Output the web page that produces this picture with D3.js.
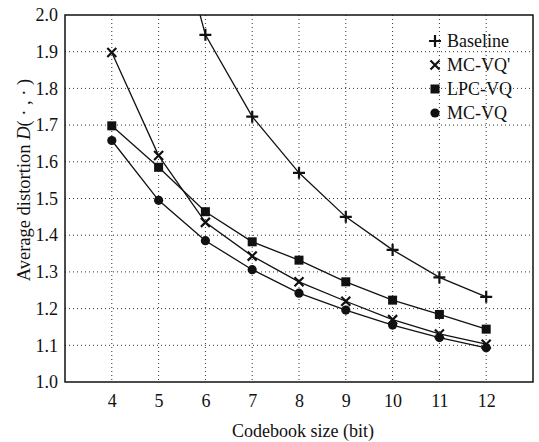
<!DOCTYPE html>
<html>
<head>
<meta charset="utf-8">
<script src="https://cdn.jsdelivr.net/npm/d3@7"></script>
<style>
  body { margin: 0; background: #fff; }
  text { font-family: "Liberation Serif", "Times New Roman", serif; fill: #111; }
</style>
</head>
<body>
<svg id="chart" width="539" height="442"></svg>
<script>
// codebook sizes (bit)
const sizes = [4, 5, 6, 7, 8, 9, 10, 11, 12];
const xTicks = [4, 5, 6, 7, 8, 9, 10, 11, 12];
const yTicks = [1.0, 1.1, 1.2, 1.3, 1.4, 1.5, 1.6, 1.7, 1.8, 1.9, 2.0];

// series values (baseline 4 and 5 lie above the frame)
const baseline = [2.9, 2.42, 1.946, 1.723, 1.570, 1.450, 1.360, 1.285, 1.232];
const mcvqPrime = [1.898, 1.617, 1.435, 1.343, 1.273, 1.220, 1.170, 1.131, 1.103];
const lpcvq = [1.698, 1.585, 1.464, 1.382, 1.332, 1.273, 1.223, 1.184, 1.144];
const mcvq = [1.658, 1.495, 1.385, 1.306, 1.242, 1.196, 1.155, 1.121, 1.093];

const seriesNames = ["Baseline", "MC-VQ'", "LPC-VQ", "MC-VQ"];
const seriesMarks = ["plus", "cross", "square", "circle"];
const seriesVals = [baseline, mcvqPrime, lpcvq, mcvq];

const svg = d3.select("#chart");
const margin = { top: 15, right: 6, bottom: 60, left: 65 };
const width = 539 - margin.left - margin.right;
const height = 442 - margin.top - margin.bottom;

const x = d3.scaleLinear().domain([3, 13]).range([0, width]);
const y = d3.scaleLinear().domain([1.0, 2.0]).range([height, 0]);

const g = svg.append("g")
  .attr("transform", "translate(" + margin.left + "," + margin.top + ")");

g.append("clipPath").attr("id", "clip")
  .append("rect").attr("width", width).attr("height", height);

// dotted grid
g.append("g").selectAll("line").data(xTicks).enter().append("line")
  .attr("x1", d => x(d)).attr("x2", d => x(d))
  .attr("y1", 0).attr("y2", height)
  .attr("stroke", "#333").attr("stroke-width", 1).attr("stroke-dasharray", "1,3");
g.append("g").selectAll("line").data(yTicks.slice(1, -1)).enter().append("line")
  .attr("x1", 0).attr("x2", width)
  .attr("y1", d => y(d)).attr("y2", d => y(d))
  .attr("stroke", "#333").attr("stroke-width", 1).attr("stroke-dasharray", "1,3");

// axes
const xAxis = g.append("g")
  .attr("transform", "translate(0," + height + ")")
  .call(d3.axisBottom(x).tickValues(xTicks).tickSize(0).tickPadding(12));
const yAxis = g.append("g")
  .call(d3.axisLeft(y).tickValues(yTicks).tickSize(0).tickPadding(7).tickFormat(d3.format(".1f")));
[xAxis, yAxis].forEach(a => {
  a.select(".domain").remove();
  a.selectAll("text").attr("font-size", 18).attr("font-family", "Liberation Serif");
});

// frame
g.append("rect").attr("width", width).attr("height", height)
  .attr("fill", "none").attr("stroke", "#111").attr("stroke-width", 1.5);

// lines
const line = d3.line()
  .x((d, i) => x(sizes[i]))
  .y(d => y(d));

const plot = g.append("g").attr("clip-path", "url(#clip)");
seriesVals.forEach(vals => {
  plot.append("path").datum(vals)
    .attr("d", line)
    .attr("fill", "none").attr("stroke", "#111").attr("stroke-width", 1.3);
});

// markers
function drawMark(sel, type) {
  if (type === "plus") {
    sel.append("path").attr("d", "M-6,0H6M0,-6V6")
      .attr("stroke", "#111").attr("stroke-width", 2.2).attr("fill", "none");
  } else if (type === "cross") {
    sel.append("path").attr("d", "M-4.5,-4.5L4.5,4.5M-4.5,4.5L4.5,-4.5")
      .attr("stroke", "#111").attr("stroke-width", 2.2).attr("fill", "none");
  } else if (type === "square") {
    sel.append("rect").attr("x", -4.5).attr("y", -4.5).attr("width", 9).attr("height", 9)
      .attr("fill", "#111");
  } else {
    sel.append("circle").attr("r", 4.6).attr("fill", "#111");
  }
}

seriesVals.forEach((vals, k) => {
  const pts = vals.map((v, i) => ({ s: sizes[i], v: v })).filter(p => p.v <= 2.0);
  plot.selectAll(".m" + k).data(pts).enter().append("g")
    .attr("class", "m" + k)
    .attr("transform", d => "translate(" + x(d.s) + "," + y(d.v) + ")")
    .each(function () { drawMark(d3.select(this), seriesMarks[k]); });
});

// legend
const legend = g.append("g").attr("transform", "translate(370,26)");
seriesNames.forEach((name, k) => {
  const row = legend.append("g").attr("transform", "translate(0," + k * 24 + ")");
  drawMark(row, seriesMarks[k]);
  row.append("text").attr("x", 12).attr("y", 0).attr("dy", "0.35em")
    .attr("font-size", 18).text(name);
});

// axis titles
svg.append("text")
  .attr("x", margin.left + width / 2 + 4).attr("y", 437)
  .attr("text-anchor", "middle").attr("font-size", 18)
  .text("Codebook size (bit)");

const yt = svg.append("text")
  .attr("transform", "translate(30,180) rotate(-90)")
  .attr("text-anchor", "middle").attr("font-size", 18.5);
yt.append("tspan").text("Average distortion ");
yt.append("tspan").attr("font-style", "italic").text("D");
yt.append("tspan").text("( \u00b7 , \u00b7 )");
</script>
</body>
</html>
